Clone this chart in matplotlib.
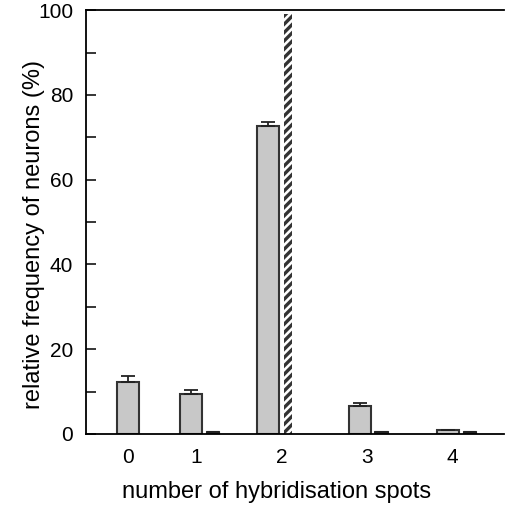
import numpy as np
import matplotlib
matplotlib.use("Agg")
import matplotlib.pyplot as plt
from matplotlib.ticker import MultipleLocator

plt.rcParams['font.family'] = ['Liberation Sans', 'DejaVu Sans']
plt.rcParams['hatch.linewidth'] = 2.4

# data (relative frequency in %)
spots = ['0', '1', '2', '3', '4']
freq_a = [12.2, 9.4, 72.6, 6.5, 0.9]      # grey bars
err_a = [1.4, 0.9, 1.1, 0.7, 0.1]
freq_b = [0.0, 0.7, 99.0, 0.6, 0.6]      # second series

# layout (hand-placed groups as in the original figure)
xa = np.array([0.0, 0.79, 1.745, 2.895, 4.0])
xb = np.array([1.06, 1.06, 2.0, 3.16, 4.27])
xlab = [0.0, 0.85, 1.925, 2.99, 4.06]

fig = plt.figure(figsize=(5.05, 5.07), dpi=100)
ax = fig.add_axes([0.170, 0.144, 0.828, 0.836])

ax.bar(xa, freq_a, width=0.275, color='#c8c8c8', edgecolor='#333333',
       linewidth=1.5, zorder=2)
ax.errorbar(xa, freq_a, yerr=[np.zeros(len(err_a)), err_a], fmt='none',
            ecolor='#222222', elinewidth=1.3, capsize=5, capthick=1.3, zorder=3)

for i in range(len(freq_b)):
    if freq_b[i] <= 0:
        continue
    if freq_b[i] > 50:
        ax.bar(xb[i], freq_b[i], width=0.11, color='white', edgecolor='#333333',
               linewidth=0, hatch='////', zorder=2)
    else:
        ax.bar(xb[i], freq_b[i], width=0.17, color='#222222', edgecolor='#222222',
               linewidth=0.8, zorder=2)

ax.set_xlim(-0.525, 4.7)
ax.set_ylim(0, 100)
ax.set_xticks(xlab)
ax.set_xticklabels(spots)
ax.yaxis.set_major_locator(MultipleLocator(20))
ax.yaxis.set_minor_locator(MultipleLocator(10))
ax.tick_params(axis='x', length=0, pad=10, labelsize=15)
ax.tick_params(axis='y', which='both', direction='in', length=7, width=1.1,
               pad=9, labelsize=15)

for s in ['left', 'bottom', 'top']:
    ax.spines[s].set_linewidth(1.3)
ax.spines['right'].set_visible(False)

ax.set_xlabel('number of hybridisation spots', fontsize=17)
ax.set_ylabel('relative frequency of neurons (%)', fontsize=17)
ax.xaxis.set_label_coords(0.457, -0.112)
ax.yaxis.set_label_coords(-0.098, 0.47)

fig.savefig('out.png', dpi=100)
